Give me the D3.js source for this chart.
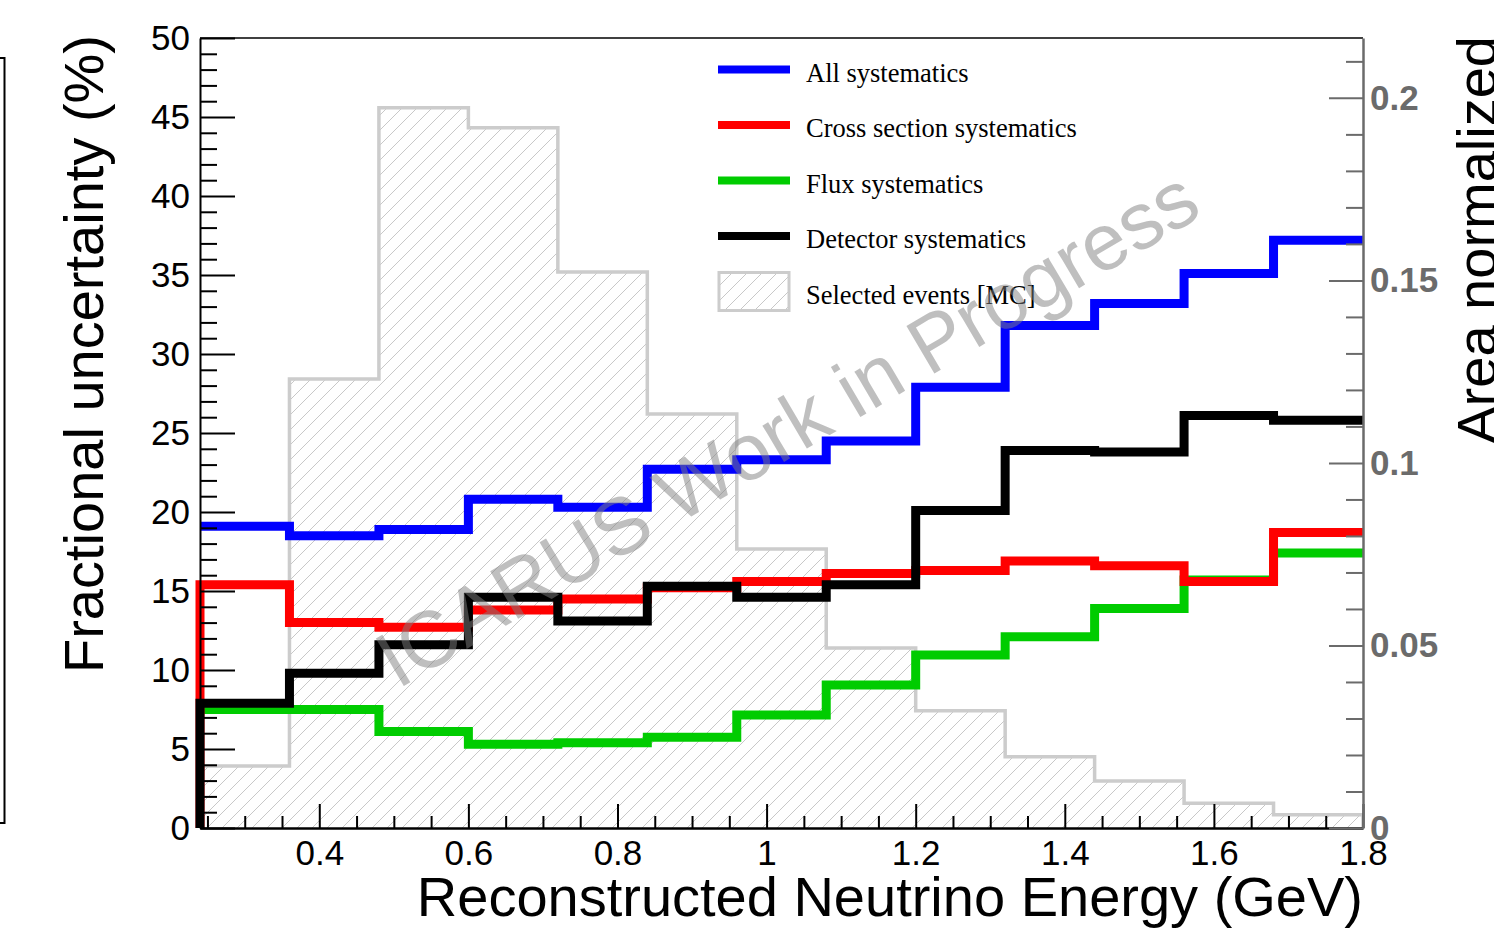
<!doctype html>
<html lang="en">
<head>
<meta charset="utf-8">
<title>Fractional uncertainty vs reconstructed neutrino energy</title>
<style>
  body { margin: 0; background: #fff; }
  svg { display: block; }
  text { font-family: "Liberation Sans", Arial, Helvetica, sans-serif; }
  .legend text { font-family: "Liberation Serif", "Times New Roman", serif; }
</style>
</head>
<body>
<div id="chart"></div>
<script src="https://d3js.org/d3.v7.min.js"></script>
<script>
// bin edges in GeV (13 bins)
var binEdges = [0.24, 0.36, 0.48, 0.60, 0.72, 0.84, 0.96, 1.08, 1.20, 1.32, 1.44, 1.56, 1.68, 1.80];

// fractional uncertainties (%)
var allSyst  = [19.1, 18.5, 18.9, 20.8, 20.3, 22.7, 23.3, 24.5, 27.9, 31.8, 33.2, 35.1, 37.2];
var xsecSyst = [15.4, 13.0, 12.7, 13.8, 14.5, 15.2, 15.6, 16.1, 16.3, 16.9, 16.6, 15.6, 18.7];
var fluxSyst = [7.5, 7.5, 6.1, 5.3, 5.4, 5.75, 7.15, 9.05, 10.95, 12.1, 13.9, 15.7, 17.4];
var detSyst  = [7.9, 9.8, 11.6, 14.6, 13.1, 15.3, 14.6, 15.4, 20.1, 23.9, 23.8, 26.1, 25.8];

// area normalized selected events (right axis)
var selEvents = [0.0170, 0.1230, 0.1973, 0.1918, 0.1523, 0.1134, 0.0764, 0.0493, 0.0321, 0.0195, 0.0129, 0.0068, 0.0036];

var legendLabels = ["All systematics", "Cross section systematics", "Flux systematics", "Detector systematics", "Selected events [MC]"];

var W = 1494, H = 928;
var padL = 200, padR = 1363, padT = 38, padB = 828;

var svg = d3.select("#chart").append("svg")
    .attr("width", W)
    .attr("height", H);

var x = d3.scaleLinear().domain([0.24, 1.8]).range([padL, padR]);
var y = d3.scaleLinear().domain([0, 50]).range([padB, padT]);
var yR = d3.scaleLinear().domain([0, 0.2164]).range([padB, padT]);

// hatch pattern for the MC histogram
var hs = 15;
var defs = svg.append("defs");
defs.append("pattern")
    .attr("id", "hatch")
    .attr("patternUnits", "userSpaceOnUse")
    .attr("width", hs)
    .attr("height", hs)
  .append("path")
    .attr("d", "M0," + hs + " L" + hs + ",0 M-2,2 L2,-2 M" + (hs - 2) + "," + (hs + 2) + " L" + (hs + 2) + "," + (hs - 2))
    .attr("stroke", "#c8c8c8")
    .attr("stroke-width", 1);

defs.append("clipPath").attr("id", "frame")
  .append("rect")
    .attr("x", padL - 6).attr("y", padT)
    .attr("width", padR - padL + 6).attr("height", padB - padT);

// step path helper
function stepPoints(vals, scale, fromZero) {
  var pts = [];
  if (fromZero) pts.push([x(binEdges[0]), scale(0)]);
  vals.forEach(function(v, i) {
    pts.push([x(binEdges[i]), scale(v)]);
    pts.push([x(binEdges[i + 1]), scale(v)]);
  });
  return pts;
}
var line = d3.line();

var plot = svg.append("g").attr("clip-path", "url(#frame)");

// selected events histogram (hatched area + grey outline)
var areaPts = stepPoints(selEvents, yR, true);
areaPts.push([x(binEdges[binEdges.length - 1]), yR(0)]);
plot.append("path")
    .attr("d", line(areaPts) + "Z")
    .attr("fill", "url(#hatch)")
    .attr("stroke", "none");
plot.append("path")
    .attr("d", line(areaPts))
    .attr("fill", "none")
    .attr("stroke", "#cccccc")
    .attr("stroke-width", 3.5);

// systematics
var series = [
  {values: allSyst,  color: "#0000ff", fromZero: false},
  {values: fluxSyst, color: "#00cc00", fromZero: false},
  {values: xsecSyst, color: "#ff0000", fromZero: true},
  {values: detSyst,  color: "#000000", fromZero: true}
];
series.forEach(function(s) {
  plot.append("path")
      .attr("d", line(stepPoints(s.values, y, s.fromZero)))
      .attr("fill", "none")
      .attr("stroke", s.color)
      .attr("stroke-width", 9)
      .attr("stroke-linejoin", "miter");
});

// frame top line
svg.append("line")
    .attr("x1", padL).attr("x2", padR)
    .attr("y1", padT).attr("y2", padT)
    .attr("stroke", "#000").attr("stroke-width", 1.5);

// left axis
var yMajor = d3.range(0, 51, 5);
var yMinor = d3.range(0, 51, 1).filter(function(d) { return d % 5 !== 0; });
var gL = svg.append("g").attr("transform", "translate(" + padL + ",0)");
gL.call(d3.axisLeft(y).tickValues(yMajor).tickSizeInner(-35).tickSizeOuter(0).tickPadding(10));
gL.append("g").call(d3.axisLeft(y).tickValues(yMinor).tickSizeInner(-17).tickSizeOuter(0).tickFormat(""))
  .select(".domain").remove();
gL.selectAll("text").attr("font-size", 35).attr("fill", "#000")
    .style("font-family", "'Liberation Sans', Arial, sans-serif");
gL.selectAll("line").attr("stroke", "#000").attr("stroke-width", 2);
gL.select(".domain").attr("stroke", "#000").attr("stroke-width", 2);

// bottom axis
var xMajor = [0.4, 0.6, 0.8, 1.0, 1.2, 1.4, 1.6, 1.8];
var xMinor = d3.range(0.25, 1.801, 0.05).filter(function(d) {
  return xMajor.every(function(m) { return Math.abs(m - d) > 1e-6; });
});
var gB = svg.append("g").attr("transform", "translate(0," + padB + ")");
gB.call(d3.axisBottom(x).tickValues(xMajor).tickSizeInner(-24).tickSizeOuter(0).tickPadding(12)
    .tickFormat(function(d) { return d3.format("~g")(d); }));
gB.append("g").call(d3.axisBottom(x).tickValues(xMinor).tickSizeInner(-12).tickSizeOuter(0).tickFormat(""))
  .select(".domain").remove();
gB.selectAll("text").attr("font-size", 35).attr("fill", "#000")
    .style("font-family", "'Liberation Sans', Arial, sans-serif");
gB.selectAll("line").attr("stroke", "#000").attr("stroke-width", 2);
gB.select(".domain").attr("stroke", "#000").attr("stroke-width", 2.5);

// right axis (grey)
var rMajor = [0, 0.05, 0.1, 0.15, 0.2];
var rMinor = d3.range(0.01, 0.2165, 0.01).filter(function(d) {
  return rMajor.every(function(m) { return Math.abs(m - d) > 1e-6; });
});
var gR = svg.append("g").attr("transform", "translate(" + padR + ",0)");
gR.call(d3.axisRight(yR).tickValues(rMajor).tickSizeInner(-34).tickSizeOuter(0).tickPadding(7)
    .tickFormat(function(d) { return d3.format("~g")(d); }));
gR.append("g").call(d3.axisRight(yR).tickValues(rMinor).tickSizeInner(-17).tickSizeOuter(0).tickFormat(""))
  .select(".domain").remove();
gR.selectAll("text").attr("font-size", 35).attr("font-weight", "bold").attr("fill", "#6b6b6b")
    .style("font-family", "'Liberation Sans', Arial, sans-serif");
gR.selectAll("line").attr("stroke", "#6b6b6b").attr("stroke-width", 2);
gR.select(".domain").attr("stroke", "#6b6b6b").attr("stroke-width", 2.5);

// axis titles
svg.append("text")
    .attr("transform", "translate(103,35) rotate(-90)")
    .attr("text-anchor", "end")
    .attr("font-size", 56)
    .text("Fractional uncertainty (%)");

svg.append("text")
    .attr("x", padR).attr("y", 916)
    .attr("text-anchor", "end")
    .attr("font-size", 56)
    .text("Reconstructed Neutrino Energy (GeV)");

svg.append("text")
    .attr("transform", "translate(1496,36) rotate(-90)")
    .attr("text-anchor", "end")
    .attr("font-size", 56)
    .text("Area normalized");

// legend
var legend = svg.append("g").attr("class", "legend");
var legColors = ["#0000ff", "#ff0000", "#00cc00", "#000000"];
legendLabels.forEach(function(lab, i) {
  var cy = 69.5 + i * 55.5;
  if (i < 4) {
    legend.append("line")
        .attr("x1", 718).attr("x2", 790)
        .attr("y1", cy).attr("y2", cy)
        .attr("stroke", legColors[i]).attr("stroke-width", 8);
  } else {
    legend.append("rect")
        .attr("x", 719).attr("y", cy - 19)
        .attr("width", 70).attr("height", 38)
        .attr("fill", "url(#hatch)")
        .attr("stroke", "#cccccc").attr("stroke-width", 3);
  }
  legend.append("text")
      .attr("x", 806).attr("y", cy + 12)
      .attr("font-size", 26.5)
      .attr("fill", "#000")
      .text(lab);
});

// watermark
svg.append("text")
    .attr("transform", "translate(801,452) rotate(-30.5)")
    .attr("text-anchor", "middle")
    .attr("font-size", 80)
    .attr("fill", "#808080")
    .attr("fill-opacity", 0.5)
    .text("ICARUS Work in Progress");

// remnants of the neighbouring panel at the left edge
svg.append("path")
    .attr("d", "M0,58 H4.5 V823 H0")
    .attr("fill", "none")
    .attr("stroke", "#000")
    .attr("stroke-width", 2);
svg.append("text")
    .attr("x", 3).attr("y", 908)
    .attr("text-anchor", "end")
    .attr("font-size", 56)
    .text(")");
</script>
</body>
</html>
